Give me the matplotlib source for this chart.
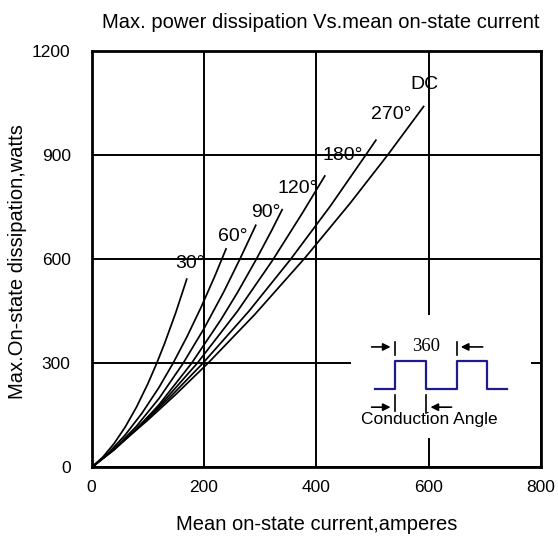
import matplotlib
matplotlib.use("Agg")
import matplotlib.pyplot as plt

plt.rcParams['font.family'] = ['Liberation Sans', 'DejaVu Sans']

# Mean on-state current (A) and power dissipation (W) for each conduction angle
i_30 = [0, 20, 40, 60, 80, 100, 116, 130, 150, 170]
p_30 = [0, 29.7, 68.6, 116.6, 173.8, 240.2, 300, 357, 446.4, 545]

i_60 = [0, 30, 60, 90, 120, 145, 170, 195, 220, 240]
p_60 = [0, 41.6, 93.8, 156.8, 230.4, 300, 377, 461.5, 553.3, 632]

i_90 = [0, 40, 80, 120, 163, 200, 235, 264, 293]
p_90 = [0, 52.5, 118.8, 198.6, 300, 399.6, 504.8, 600, 700]

i_120 = [0, 40, 80, 120, 178, 230, 260, 293, 320, 340]
p_120 = [0, 50.2, 110.3, 180.5, 300, 425, 504.6, 599, 681, 745]

i_180 = [0, 40, 80, 130, 188, 260, 322, 375, 416]
p_180 = [0, 52.6, 111.4, 193.3, 300, 450.8, 596.3, 732.2, 842]

i_270 = [0, 40, 80, 140, 198, 280, 354, 425, 488, 507]
p_270 = [0, 53.4, 110.5, 203, 300, 450, 599, 753, 900, 945]

i_dc = [0, 50, 100, 150, 207, 290, 380, 460, 527, 592]
p_dc = [0, 66.1, 136.3, 210.5, 300, 439.8, 604, 760.7, 900, 1042]

curves = [(i_30, p_30), (i_60, p_60), (i_90, p_90), (i_120, p_120),
          (i_180, p_180), (i_270, p_270), (i_dc, p_dc)]

# curve labels and where they sit (current, watts)
curve_labels = ['30°', '60°', '90°', '120°', '180°', '270°', 'DC']
label_i = [175, 251, 310, 367, 447, 533, 593]
label_p = [589, 665, 735, 805, 900, 1016, 1102]

x_ticks = [0, 200, 400, 600, 800]
y_ticks = [0, 300, 600, 900, 1200]

# square wave in the inset: phase in degrees, level 0/1
wave_deg = [-117, 0, 0, 180, 180, 360, 360, 540, 540, 657]
wave_lvl = [0, 0, 1, 1, 0, 0, 1, 1, 0, 0]
period_deg = 360
conduction_deg = 180

fig = plt.figure(figsize=(5.58, 5.40), dpi=100)
ax = fig.add_axes([0.164, 0.1343, 0.8055, 0.7713])

for xs, ys in curves:
    ax.plot(xs, ys, color='black', lw=1.25, solid_capstyle='butt', zorder=3)

for txt, lx, ly in zip(curve_labels, label_i, label_p):
    ax.text(lx, ly, txt, ha='center', va='center', fontsize=14, zorder=4)

ax.set_xlim(0, 800)
ax.set_ylim(0, 1200)
ax.set_xticks(x_ticks)
ax.set_yticks(y_ticks)
ax.tick_params(length=0, labelsize=12.5)
ax.tick_params(axis='x', pad=9)
ax.tick_params(axis='y', pad=15)
ax.grid(True, color='black', lw=1.4)
ax.set_axisbelow(True)
for sp in ax.spines.values():
    sp.set_linewidth(2.0)

fig.text(0.575, 0.959, 'Max. power dissipation Vs.mean on-state current',
         ha='center', va='center', fontsize=14.5)
fig.text(0.567, 0.028, 'Mean on-state current,amperes',
         ha='center', va='center', fontsize=14.5)
fig.text(0.032, 0.515, 'Max.On-state dissipation,watts',
         ha='center', va='center', rotation=90, fontsize=14.5)

# inset: conduction angle sketch on a white panel
ins = ax.inset_axes([0.577, 0.0708, 0.4, 0.295])
ins.set_facecolor('white')
ins.set_zorder(5)
for sp in ins.spines.values():
    sp.set_visible(False)
ins.set_xticks([])
ins.set_yticks([])
ins.set_xlim(-257, 793)
ins.set_ylim(-1.72, 2.625)
ins.plot(wave_deg, wave_lvl, color='#1c1c8c', lw=1.6)

arrow = dict(arrowstyle='-|>', color='black', lw=1.2, mutation_scale=11,
             shrinkA=0, shrinkB=0)
# period markers
ins.plot([0, 0], [1.22, 1.69], color='black', lw=1.2)
ins.plot([period_deg, period_deg], [1.22, 1.69], color='black', lw=1.2)
ins.annotate('', xy=(-25, 1.5), xytext=(-136, 1.5), arrowprops=arrow)
ins.annotate('', xy=(period_deg + 25, 1.5), xytext=(period_deg + 153, 1.5),
             arrowprops=arrow)
ins.text(period_deg / 2 + 5, 1.5, str(period_deg), ha='center', va='center',
         fontsize=13.5, family=['Liberation Serif', 'DejaVu Serif'])
# conduction markers
ins.plot([0, 0], [-0.2, -0.75], color='black', lw=1.2)
ins.plot([conduction_deg, conduction_deg], [-0.2, -0.85], color='black', lw=1.2)
ins.annotate('', xy=(-25, -0.63), xytext=(-136, -0.63), arrowprops=arrow)
ins.annotate('', xy=(conduction_deg + 28, -0.63),
             xytext=(conduction_deg + 151, -0.63), arrowprops=arrow)
ins.text(204, -1.07, 'Conduction Angle', ha='center', va='center', fontsize=12.5)

fig.savefig('out.png', dpi=100)
